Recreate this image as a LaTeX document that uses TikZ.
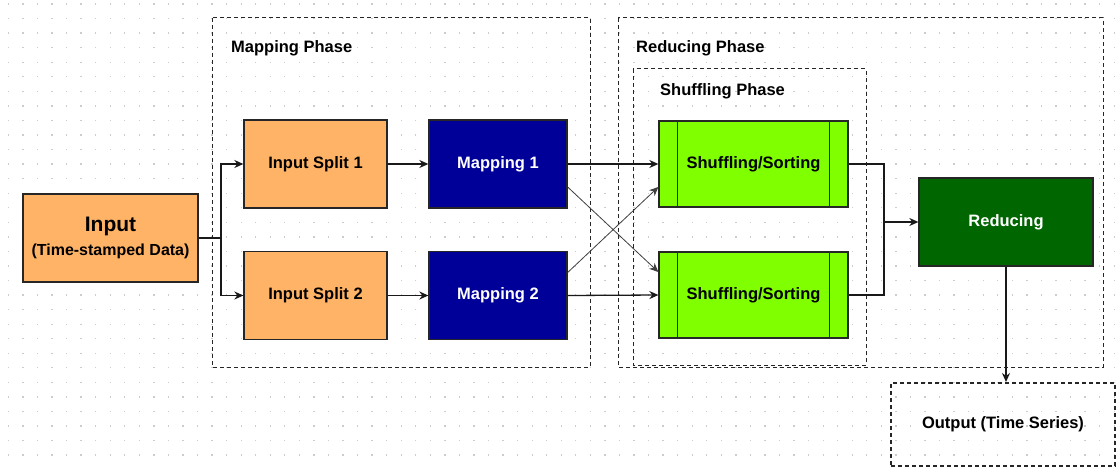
\documentclass[tikz,border=0pt]{standalone}
\usepackage{fontspec}
\setmainfont{Liberation Sans}
\usetikzlibrary{arrows.meta,calc}

\definecolor{orangefill}{HTML}{FFB366}
\definecolor{navyfill}{HTML}{000099}
\definecolor{limefill}{HTML}{80FF00}
\definecolor{greenfill}{HTML}{006600}
\definecolor{gridgray}{HTML}{CCCCCC}

\tikzset{
  box/.style={draw=black!85, line width=1.3pt, minimum height=88pt, inner sep=0pt,
    font=\bfseries\fontsize{16.5}{19}\selectfont},
  splitbox/.style={box, fill=orangefill, minimum width=143pt},
  mapbox/.style={box, fill=navyfill, text=white, minimum width=138pt},
  shufbox/.style={box, fill=limefill, minimum width=189pt, minimum height=86pt},
  phase/.style={draw=black!85, line width=1pt, dash pattern=on 4pt off 3pt},
  phaselabel/.style={anchor=west, inner sep=0pt, font=\bfseries\fontsize{16.5}{19}\selectfont},
  link/.style={line width=1.3pt, draw=black!90},
  arrow/.style={link, -{Stealth[length=9pt,width=8pt]}},
  crosslink/.style={line width=0.8pt, draw=black!75, -{Stealth[length=9pt,width=8pt]}},
}

\begin{document}
\begin{tikzpicture}[x=1pt,y=-1pt]
  % canvas and dotted grid
  \useasboundingbox (0,0) rectangle (1119,468);
  \fill[white] (0,0) rectangle (1119,468);
  \foreach \i in {0,...,76}{
    \foreach \j in {0,...,31}{
      \fill[gridgray] ({7.7+14.55*\i},{3.4+14.55*\j}) rectangle ++(1.3,1.3);
    }
  }

  % phase containers
  \draw[phase] (212,18) rectangle (590,367);
  \draw[phase] (618,18) rectangle (1103,367);
  \draw[phase] (633,69) rectangle (866,365);
  \node[phaselabel] (lblmap) at (231,48) {Mapping Phase};
  \node[phaselabel] (lblred) at (636,48) {Reducing Phase};
  \node[phaselabel] (lblshuf) at (660,91) {Shuffling Phase};

  % input
  \node[box, fill=orangefill, minimum width=175pt, align=center] (input) at (110.5,238)
    {{\fontsize{21}{24}\selectfont Input}\\[5pt]{\fontsize{16}{19}\selectfont (Time-stamped Data)}};

  % mapping phase
  \node[splitbox] (split1) at (315.5,164) {Input Split 1};
  \node[splitbox] (split2) at (315.5,295.5) {Input Split 2};
  \node[mapbox] (map1) at (498,164) {Mapping 1};
  \node[mapbox] (map2) at (498,295.5) {Mapping 2};

  % shuffling phase
  \node[shufbox] (shuf1) at (753.5,164) {Shuffling/Sorting};
  \node[shufbox] (shuf2) at (753.5,295) {Shuffling/Sorting};
  \foreach \s in {shuf1,shuf2}{
    \draw[line width=1.3pt, draw=black!85] ($(\s.north west)+(19,0)$) -- ($(\s.south west)+(19,0)$);
    \draw[line width=1.3pt, draw=black!85] ($(\s.north east)+(-19,0)$) -- ($(\s.south east)+(-19,0)$);
  }

  % reducing and output
  \node[box, fill=greenfill, text=white, minimum width=174pt] (reduce) at (1006,222) {Reducing};
  \node[draw=black!85, line width=2pt, dash pattern=on 4pt off 3pt, minimum width=224pt,
        minimum height=83pt, inner sep=0pt, font=\bfseries\fontsize{16.5}{19}\selectfont]
        (output) at (1003,424.5) {Output (Time Series)};

  % connectors
  \coordinate (fork) at (221,238);
  \draw[link] (input.east) -- (fork);
  \draw[arrow] (fork) |- (split1.west);
  \draw[arrow] (fork) |- (split2.west);
  \draw[arrow] (split1.east) -- (map1.west);
  \draw[arrow] (split2.east) -- (map2.west);
  \draw[arrow] (map1.east) -- (shuf1.west);
  \draw[arrow] (map2.east) -- (shuf2.west);
  \draw[crosslink] ($(map1.east)+(0,23)$) -- ($(shuf2.west)+(0,-23)$);
  \draw[crosslink] ($(map2.east)+(0,-23)$) -- ($(shuf1.west)+(0,23)$);
  \coordinate (merge) at (884,222);
  \draw[link] (shuf1.east) -| (merge);
  \draw[link] (shuf2.east) -| (merge);
  \draw[arrow] (merge) -- (reduce.west);
  \draw[arrow] (reduce.south) -- (reduce.south |- output.north);
\end{tikzpicture}
\end{document}
